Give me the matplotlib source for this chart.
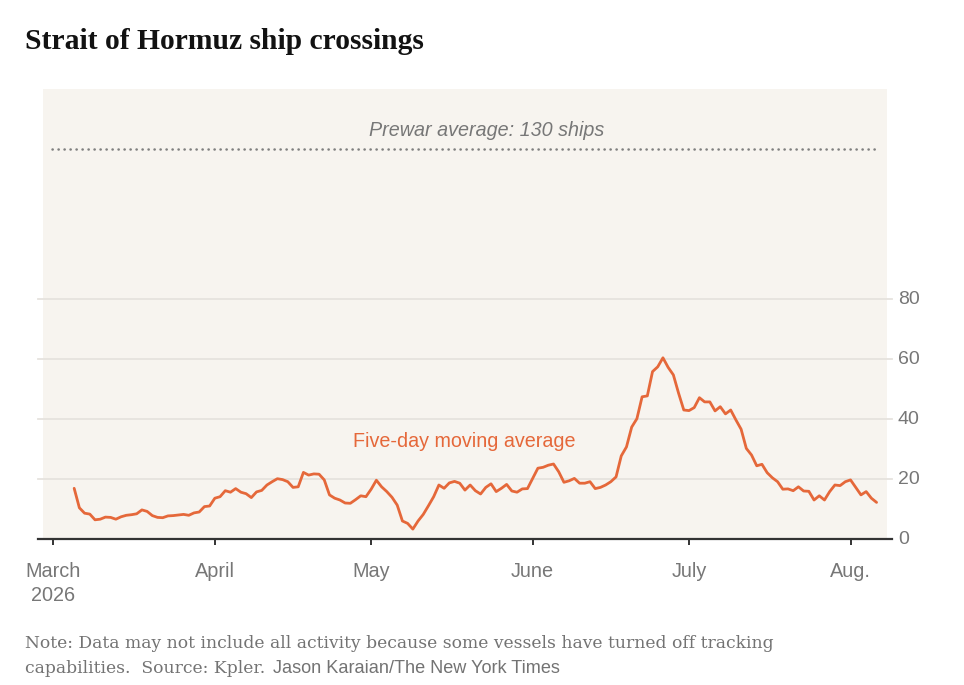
import matplotlib
matplotlib.use("Agg")
import matplotlib.pyplot as plt
import matplotlib.dates as mdates
import pandas as pd
import numpy as np

# ---------------- data ----------------
start_date = "2026-03-05"
end_date = "2026-08-06"
moving_avg = [
    16.9, 10.4, 8.6, 8.3, 6.4, 6.6, 7.3, 7.2, 6.6, 7.4,
    7.9, 8.1, 8.4, 9.7, 9.2, 7.8, 7.2, 7.1, 7.7, 7.8,
    8.0, 8.2, 7.9, 8.7, 9.0, 10.8, 11.0, 13.6, 14.1, 16.1,
    15.6, 16.8, 15.6, 15.1, 13.8, 15.7, 16.2, 18.0, 19.1, 20.1,
    19.8, 19.1, 17.2, 17.4, 22.2, 21.3, 21.7, 21.6, 19.7, 14.7,
    13.6, 13.0, 12.0, 11.9, 13.1, 14.4, 14.1, 16.6, 19.6, 17.4,
    15.8, 13.9, 11.3, 6.0, 5.2, 3.3, 6.0, 8.2, 11.1, 14.1,
    18.0, 16.9, 18.7, 19.2, 18.6, 16.3, 18.0, 16.1, 15.0, 17.2,
    18.4, 15.8, 16.9, 18.2, 16.0, 15.6, 16.7, 16.8, 20.2, 23.6,
    23.9, 24.6, 25.0, 22.4, 18.9, 19.4, 20.2, 18.6, 18.6, 19.1,
    16.8, 17.2, 18.0, 19.1, 20.7, 27.7, 30.7, 37.3, 40.1, 47.4,
    47.7, 55.8, 57.4, 60.4, 57.2, 54.7, 48.6, 43.0, 42.8, 43.8,
    47.1, 45.7, 45.7, 42.7, 44.1, 41.7, 43.0, 39.7, 36.6, 30.2,
    28.0, 24.4, 24.9, 22.1, 20.4, 19.1, 16.6, 16.7, 16.1, 17.4,
    16.0, 15.9, 13.0, 14.4, 13.0, 15.8, 18.0, 17.8, 19.1, 19.7,
    17.2, 14.7, 15.8, 13.6, 12.2,
]
prewar_average = 130
month_ticks = ["2026-03-01", "2026-04-01", "2026-05-01", "2026-06-01", "2026-07-01", "2026-08-01"]
month_labels = ["March\n2026", "April", "May", "June", "July", "Aug."]
y_ticks = [0, 20, 40, 60, 80]

title = "Strait of Hormuz ship crossings"
prewar_label = "Prewar average: 130 ships"
series_label = "Five-day moving average"
note_line1 = "Note: Data may not include all activity because some vessels have turned off tracking"
note_line2a = "capabilities.  Source: Kpler."
note_line2b = "Jason Karaian/The New York Times"

dates = pd.date_range(start_date, end_date, freq="D")

# ---------------- style ----------------
W, H, DPI = 964, 685, 100
ORANGE = "#e5683a"
BG = "#f7f4ef"
GRID = "#e6e3de"
GRAY = "#777777"
NOTE = "#737373"
DARK = "#333333"
SANS = ["Liberation Sans", "DejaVu Sans"]
SERIF = ["Liberation Serif", "DejaVu Serif"]
NOTE_SERIF = ["DejaVu Serif"]

fig = plt.figure(figsize=(W / DPI, H / DPI), dpi=DPI)
fig.patch.set_facecolor("white")

L, R, T, B = 43, 887, 89, 539
ax = fig.add_axes([L / W, 1 - B / H, (R - L) / W, (B - T) / H])
ax.set_facecolor(BG)
for s in ax.spines.values():
    s.set_visible(False)

origin = pd.Timestamp("2026-03-01")
ax.set_xlim(mdates.date2num(origin - pd.Timedelta(days=1.98)),
            mdates.date2num(origin + pd.Timedelta(days=160.0)))
ax.set_ylim(0, 150)

ext = 5 / (R - L)
for v in y_ticks[1:]:
    ax.axhline(v, xmin=-ext, xmax=1 + ext, color=GRID, lw=1.3, clip_on=False, zorder=1)
ax.axhline(0, xmin=-ext, xmax=1 + ext, color=DARK, lw=1.6, clip_on=False, zorder=4)

# prewar dotted line
ax.plot([mdates.date2num(origin - pd.Timedelta(days=0.25)), mdates.date2num(pd.Timestamp(end_date))],
        [prewar_average, prewar_average], color="#7f7f7f", lw=1.8,
        linestyle=(0, (0.1, 2.3)), dash_capstyle="round", zorder=2)
ax.text(mdates.date2num(origin + pd.Timedelta(days=83.2)), 134.4, prewar_label,
        ha="center", va="baseline", fontsize=14.2, style="italic", color=GRAY, family=SANS)

# series
ax.plot(mdates.date2num(dates), moving_avg, color=ORANGE, lw=2.0,
        solid_joinstyle="round", solid_capstyle="round", zorder=3)
ax.text(mdates.date2num(origin + pd.Timedelta(days=78.8)), 30.8, series_label,
        ha="center", va="baseline", fontsize=14.2, color=ORANGE, family=SANS)

# x ticks
ax.set_xticks([mdates.date2num(pd.Timestamp(d)) for d in month_ticks])
ax.set_xticklabels(month_labels, fontsize=14.3, color=GRAY, family=SANS, linespacing=1.32)
ax.tick_params(axis="x", direction="out", length=4.3, width=1.4, color=DARK, pad=12.5)
ax.set_yticks([])

# y labels on the right
for v in y_ticks:
    ax.text(1 + 11 / (R - L), v, str(v), transform=ax.get_yaxis_transform(),
            ha="left", va="center", fontsize=14, color=GRAY, family=SANS)

# title
fig.text(25 / W, 1 - 49 / H, title, ha="left", va="baseline", fontsize=21.3,
         fontweight="bold", color="#121212", family=SERIF)

# notes
renderer = fig.canvas.get_renderer()

def fit(t, target_px):
    w = t.get_window_extent(renderer).width
    t.set_fontsize(t.get_fontsize() * target_px / w)

n1 = fig.text(25 / W, 1 - 648 / H, note_line1, ha="left", va="baseline",
              fontsize=12, color=NOTE, family=NOTE_SERIF)
fit(n1, 745)
n2 = fig.text(25 / W, 1 - 673 / H, note_line2a, ha="left", va="baseline",
              fontsize=n1.get_fontsize(), color=NOTE, family=NOTE_SERIF)
end2 = n2.get_window_extent(renderer).x1
n3_x = end2 + 8
n3 = fig.text(n3_x / W, 1 - 673 / H, note_line2b, ha="left", va="baseline",
              fontsize=12, color=NOTE, family=SANS)
fit(n3, 562 - n3_x)

fig.savefig("out.png", dpi=DPI, facecolor="white")
